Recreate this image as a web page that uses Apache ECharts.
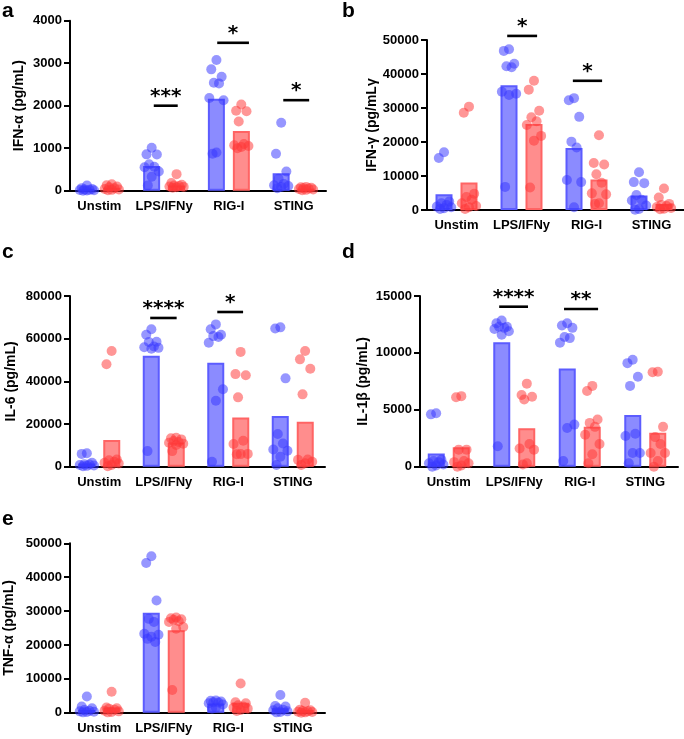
<!DOCTYPE html>
<html>
<head>
<meta charset="utf-8">
<script src="https://cdn.jsdelivr.net/npm/echarts@6.0.0/dist/echarts.min.js"></script>
<style>
html,body{margin:0;padding:0;background:#fff;}
#chart{width:684px;height:739px;}
</style>
</head>
<body>
<div id="chart"></div>
<script>
// ---------- DATA ----------
const categories = ['Unstim', 'LPS/IFNy', 'RIG-I', 'STING'];

// Panel a: IFN-α
const aBlueBars = [45, 580, 2165, 410];
const aRedBars = [70, 125, 1405, 50];
const aBlueDots = [
  [120, 60, 40, 30, 20, 15, 10, 5, 0],
  [1010, 855, 850, 620, 565, 550, 450, 330, 125],
  [3075, 2855, 2680, 2540, 2525, 2180, 2130, 900, 870],
  [1600, 870, 450, 280, 160, 130, 110, 90, 60]
];
const aRedDots = [
  [150, 130, 100, 80, 60, 40, 30, 20, 10],
  [390, 180, 140, 120, 110, 100, 90, 80, 70],
  [2030, 1880, 1870, 1630, 1100, 1070, 1050, 1030, 1000],
  [90, 80, 70, 60, 50, 40, 30, 20, 10]
];
const aSig = [[1, -0.16, 0.21, 2000, '***'], [2, -0.18, 0.31, 3480, '*'], [3, -0.16, 0.24, 2130, '*']];

// Panel b: IFN-γ
const bBlueBars = [4600, 36700, 18200, 4300];
const bRedBars = [8100, 25300, 9000, 1800];
const bBlueDots = [
  [17000, 15300, 2500, 2000, 1500, 1000, 800, 500, 300],
  [47300, 46800, 43000, 42300, 42000, 34800, 34200, 33800, 6800],
  [32900, 32300, 27400, 20100, 18400, 8800, 8200, 800],
  [11100, 8200, 7900, 4400, 3000, 2800, 1300, 300, 100]
];
const bRedDots = [
  [30400, 28600, 4800, 3800, 3000, 2000, 1200, 800, 300],
  [38000, 35400, 29200, 27300, 26100, 25000, 21800, 20400, 6600],
  [22000, 13800, 13400, 10500, 8000, 4900, 4600, 2000, 1800],
  [6300, 3700, 1800, 1500, 1200, 900, 600, 400, 200]
];
const bSig = [[1, -0.22, 0.24, 51200, '*'], [2, -0.21, 0.24, 38000, '*']];

// Panel c: IL-6
const cBlueBars = [1500, 52000, 48750, 23750];
const cRedBars = [12500, 11400, 23100, 21100];
const cBlueDots = [
  [6300, 6000, 1800, 1200, 1000, 800, 600, 400, 200],
  [64400, 61800, 58600, 58400, 56300, 56000, 55700, 55300, 7300],
  [66700, 64400, 61800, 61200, 60800, 58100, 36300, 30900, 2300],
  [65300, 64800, 41400, 15300, 10900, 8100, 7500, 4700, 800]
];
const cRedDots = [
  [54200, 48000, 3400, 3000, 2300, 1800, 1500, 800, 200],
  [13600, 13300, 12800, 12000, 11600, 11200, 10800, 10200, 7300],
  [53800, 43400, 42900, 32500, 12200, 10600, 6000, 5900, 5800],
  [54200, 50300, 45900, 33900, 3400, 3200, 2300, 1600, 800]
];
const cSig = [[1, -0.21, 0.2, 69700, '****'], [2, -0.17, 0.23, 72500, '*']];

// Panel d: IL-1β
const dBlueBars = [1170, 10930, 8640, 4540];
const dRedBars = [1700, 3370, 3500, 2990];
const dBlueDots = [
  [4700, 4600, 600, 500, 400, 300, 200, 100, 0],
  [12850, 12600, 12300, 12300, 12200, 12100, 11900, 11600, 1800],
  [12600, 12400, 12200, 11400, 11300, 10900, 3700, 3400, 500],
  [9400, 9100, 7900, 7100, 2900, 2700, 1200, 1200, 300]
];
const dRedDots = [
  [6200, 6100, 1500, 1500, 500, 400, 300, 100, 0],
  [7300, 6300, 6150, 5900, 2000, 1600, 1500, 300, 200],
  [7100, 6650, 4150, 3850, 3500, 2800, 2000, 1100, 300],
  [8350, 8300, 3500, 2600, 2000, 1200, 1200, 500, 0]
];
const dSig = [[1, -0.23, 0.21, 14060, '****'], [2, -0.24, 0.28, 13860, '**']];

// Panel e: TNF-α
const eBlueBars = [800, 29500, 2750, 1300];
const eRedBars = [1500, 24300, 2900, 800];
const eBlueDots = [
  [4800, 1800, 1300, 800, 600, 400, 300, 200, 100],
  [46200, 44200, 33100, 27700, 26800, 23300, 23000, 22400, 21800, 20900],
  [3600, 3500, 3300, 3100, 3000, 2800, 2400, 1500, 1200],
  [5200, 2000, 1800, 1300, 900, 700, 400, 200, 100]
];
const eRedDots = [
  [6200, 1500, 1300, 1200, 900, 600, 400, 200, 100],
  [28100, 27900, 27600, 27400, 27000, 26800, 25300, 24800, 6700],
  [8600, 3100, 2800, 2200, 1800, 1500, 1200, 800, 500],
  [2900, 900, 700, 500, 400, 300, 200, 100, 0]
];
const eSig = [];

// horizontal spread of dots within a group (category units)
const JITTER = [0, -0.08, 0.08, -0.04, 0.04, -0.11, 0.11, 0, -0.06, 0.06];

// ---------- LAYOUT ----------
const FONT = '"Liberation Sans", Arial, Helvetica, sans-serif';
const panels = [
  {letter: 'a', lx: 2, ly: 1, yName: 'IFN-α (pg/mL)', max: 4000, interval: 1000, nameGap: 44,
   grid: {left: 67, top: 20.7, width: 259, height: 170}, off: -3,
   blueBars: aBlueBars, redBars: aRedBars, blueDots: aBlueDots, redDots: aRedDots, sig: aSig},
  {letter: 'b', lx: 342, ly: 1, yName: 'IFN-γ (pg/mLγ', max: 50000, interval: 10000, nameGap: 46,
   grid: {left: 424, top: 40, width: 260, height: 170}, off: -3,
   blueBars: bBlueBars, redBars: bRedBars, blueDots: bBlueDots, redDots: bRedDots, sig: bSig},
  {letter: 'c', lx: 2, ly: 242, yName: 'IL-6 (pg/mL)', max: 80000, interval: 20000, nameGap: 52,
   grid: {left: 67, top: 296, width: 258, height: 170.7}, off: -3,
   blueBars: cBlueBars, redBars: cRedBars, blueDots: cBlueDots, redDots: cRedDots, sig: cSig},
  {letter: 'd', lx: 342, ly: 242, yName: 'IL-1β (pg/mL)', max: 15000, interval: 5000, nameGap: 50,
   grid: {left: 416, top: 296, width: 262, height: 170.7}, off: -4,
   blueBars: dBlueBars, redBars: dRedBars, blueDots: dBlueDots, redDots: dRedDots, sig: dSig},
  {letter: 'e', lx: 2, ly: 509, yName: 'TNF-α (pg/mL)', max: 50000, interval: 10000, nameGap: 54,
   grid: {left: 67, top: 543.3, width: 258, height: 169.4}, off: -3,
   blueBars: eBlueBars, redBars: eRedBars, blueDots: eBlueDots, redDots: eRedDots, sig: eSig}
];

const BLUE_FILL = 'rgba(90,90,255,0.70)';
const BLUE_EDGE = '#5c5cff';
const BLUE_DOT = 'rgba(55,55,255,0.66)';
const RED_FILL = 'rgba(255,80,80,0.65)';
const RED_EDGE = '#ff6464';
const RED_DOT = 'rgba(255,55,55,0.66)';
const GROUP_OFF = 0.192;

const grids = [], xAxes = [], yAxes = [], series = [], graphics = [];

function dots(groups, sign) {
  const out = [];
  groups.forEach((vals, c) => {
    vals.forEach((v, k) => {
      out.push([c + sign * GROUP_OFF + JITTER[k % JITTER.length], v]);
    });
  });
  return out;
}

panels.forEach((p, i) => {
  grids.push(Object.assign({containLabel: false}, p.grid));
  xAxes.push({
    type: 'category', gridIndex: i, data: categories,
    axisLine: {onZero: false, lineStyle: {color: '#000', width: 2}},
    axisTick: {alignWithLabel: true, length: 5, lineStyle: {color: '#000', width: 2}},
    axisLabel: {interval: 0, margin: 9, color: '#000', fontWeight: 'bold', fontSize: 13, fontFamily: FONT}
  });
  xAxes.push({type: 'value', gridIndex: i, min: -0.5, max: 3.5, show: false});
  yAxes.push({
    type: 'value', gridIndex: i, min: 0, max: p.max, interval: p.interval, offset: p.off,
    name: p.yName, nameLocation: 'middle', nameGap: p.nameGap,
    nameTextStyle: {color: '#000', fontWeight: 'bold', fontSize: 14, fontFamily: FONT},
    axisLine: {show: true, onZero: false, lineStyle: {color: '#000', width: 2}},
    axisTick: {show: true, length: 6, lineStyle: {color: '#000', width: 2}},
    axisLabel: {margin: 8, color: '#000', fontWeight: 'bold', fontSize: 13, fontFamily: FONT,
                formatter: v => String(v)},
    splitLine: {show: false}
  });
  series.push({
    type: 'bar', xAxisIndex: 2 * i, yAxisIndex: i, data: p.blueBars, barWidth: 17, barGap: '47%',
    itemStyle: {color: BLUE_FILL, borderColor: BLUE_EDGE, borderWidth: 2}, z: 2, silent: true
  });
  series.push({
    type: 'bar', xAxisIndex: 2 * i, yAxisIndex: i, data: p.redBars, barWidth: 17, barGap: '47%',
    itemStyle: {color: RED_FILL, borderColor: RED_EDGE, borderWidth: 2}, z: 2, silent: true
  });
  series.push({
    type: 'scatter', xAxisIndex: 2 * i + 1, yAxisIndex: i, data: dots(p.blueDots, -1),
    symbolSize: 10, itemStyle: {color: BLUE_DOT}, z: 4, silent: true
  });
  series.push({
    type: 'scatter', xAxisIndex: 2 * i + 1, yAxisIndex: i, data: dots(p.redDots, 1),
    symbolSize: 10, itemStyle: {color: RED_DOT}, z: 4, silent: true
  });
  if (p.sig.length) {
    const sig = p.sig;
    series.push({
      type: 'custom', xAxisIndex: 2 * i + 1, yAxisIndex: i, clip: false, silent: true, z: 5,
      data: sig.map(s => [s[0] + s[1], s[3]]),
      renderItem: function (params, api) {
        const s = sig[params.dataIndex];
        const p0 = api.coord([s[0] + s[1], s[3]]);
        const p1 = api.coord([s[0] + s[2], s[3]]);
        return {
          type: 'group', children: [
            {type: 'line', shape: {x1: p0[0], y1: p0[1], x2: p1[0], y2: p1[1]},
             style: {stroke: '#000', lineWidth: 2.6}},
            {type: 'text', style: {text: s[4], x: (p0[0] + p1[0]) / 2, y: p0[1] - 9,
             align: 'center', verticalAlign: 'middle', font: 'bold 20px "DejaVu Sans"', fill: '#000'}}
          ]
        };
      }
    });
  }
  graphics.push({
    type: 'text', left: p.lx, top: p.ly,
    style: {text: p.letter, font: 'bold 21px ' + FONT, fill: '#000'}
  });
});

const chart = echarts.init(document.getElementById('chart'), null, {renderer: 'canvas'});
chart.setOption({
  animation: false,
  backgroundColor: '#fff',
  grid: grids,
  xAxis: xAxes,
  yAxis: yAxes,
  series: series,
  graphic: graphics
});
</script>
</body>
</html>
